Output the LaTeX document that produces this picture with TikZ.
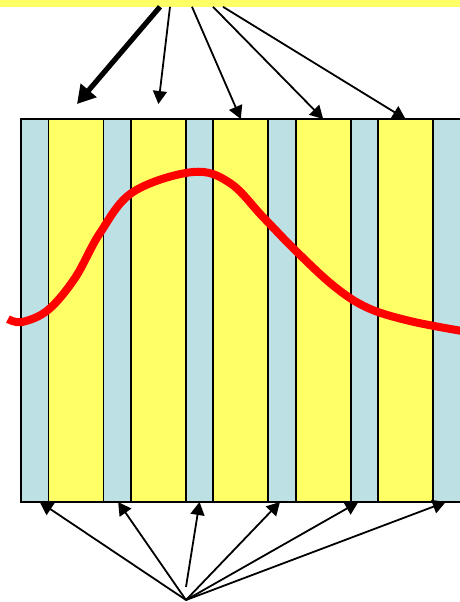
\documentclass[tikz,border=0pt]{standalone}
\usetikzlibrary{arrows.meta,calc}
\definecolor{stripyellow}{HTML}{FFFF66}
\definecolor{stripblue}{HTML}{BDE0E4}
\begin{document}
\begin{tikzpicture}[
    x=0.5pt, y=-0.5pt,
    strip/.style={rectangle, draw, line width=0.85pt, inner sep=0pt, outer sep=0pt, minimum height=191.5pt},
    bluestrip/.style={strip, fill=stripblue, minimum width=13.75pt},
    yellowstrip/.style={strip, fill=stripyellow, minimum width=27.5pt},
    source/.style={rectangle, fill=stripyellow, inner sep=0pt, minimum width=230pt, minimum height=3.4pt},
    flow/.style={-{Triangle[length=6.5pt,width=7pt]}, line width=0.9pt},
    mainflow/.style={-{Triangle[length=9pt,width=10pt]}, line width=2.6pt},
    signal/.style={red, line width=4pt}
]
\useasboundingbox (0,0) rectangle (460,602);

% Source bar at the top
\node[source] (src) at (230,3.4) {};

% Strips - blue and yellow alternating
\foreach \i in {1,...,6} {
  \node[bluestrip] (b\i) at ({34.75+82.4*(\i-1)},310.5) {};
}
\foreach \i in {1,...,5} {
  \node[yellowstrip] (y\i) at ({76+82.4*(\i-1)},310.5) {};
}

% Start points on the source bar
\coordinate (s1) at (160,6.8);
\coordinate (s2) at (170,6.8);
\coordinate (s3) at (192,6.8);
\coordinate (s4) at (213,6.8);
\coordinate (s5) at (223,6.8);

% Arrows from the source bar to the yellow strips
\draw[mainflow] (s1) -- ($(y1.north)+(1,-15)$);
\draw[flow] (s2) -- ($(y2.north)+(0,-15)$);
\draw[flow] (s3) -- (y3.north);
\draw[flow] (s4) -- (y4.north);
\draw[flow] (s5) -- (y5.north);

% Arrows from the bottom point to the blue strips
\coordinate (hub) at (186,600);
\coordinate (hubm) at (186,587);
\draw[flow] (hub) -- ($(b1.south)+(5,0)$);
\draw[flow] (hub) -- ($(b2.south)+(1,0)$);
\draw[flow] (hubm) -- (b3.south);
\draw[flow] (hub) -- ($(b4.south)+(-2,0)$);
\draw[flow] (hub) -- ($(b5.south)+(-6,0)$);
\draw[flow] (hub) -- ($(b6.south)+(-1,0)$);

% Red curve
\draw[signal] plot[smooth, tension=0.6] coordinates {(8,319) (22,322) (48,310) (75,278) (100,233) (133,192) (193,172) (230,183) (263,217) (297,252) (335,287) (368,308) (410,321) (462,331)};

\end{tikzpicture}
\end{document}
